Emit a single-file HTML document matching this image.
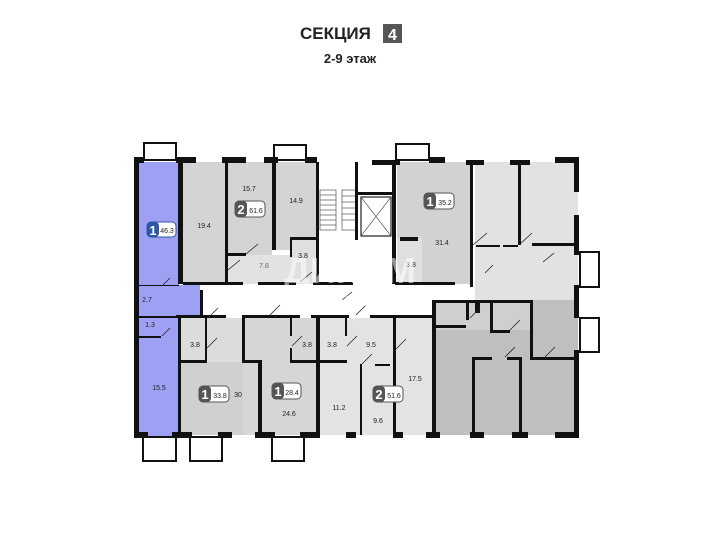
<!DOCTYPE html>
<html><head><meta charset="utf-8"><style>
body{margin:0;background:#fff;width:701px;height:556px;overflow:hidden}
svg{display:block}
text{font-family:"Liberation Sans",sans-serif}
</style></head><body>
<svg width="701" height="556" viewBox="0 0 701 556">
<text x="300" y="39" font-size="17" font-weight="bold" fill="#222">СЕКЦИЯ</text>
<rect x="383" y="24" width="19" height="19" fill="#555"/>
<text x="392.5" y="40" font-size="16" font-weight="bold" fill="#fff" text-anchor="middle">4</text>
<text x="350" y="63" font-size="13" font-weight="bold" fill="#222" text-anchor="middle">2-9 этаж</text>

<g fill="#fff" stroke="#111" stroke-width="2">
<rect x="144" y="143" width="32" height="17"/>
<rect x="274" y="145" width="32" height="15"/>
<rect x="396" y="144" width="33" height="16"/>
<rect x="580" y="252" width="19" height="35"/>
<rect x="580" y="318" width="19" height="34"/>
<rect x="143" y="437" width="33" height="24"/>
<rect x="190" y="437" width="32" height="24"/>
<rect x="272" y="437" width="32" height="24"/>
</g>

<rect x="139" y="162" width="440" height="274" fill="#fff"/>
<rect x="139" y="162" width="40" height="274" fill="#9ea0f4"/>
<rect x="179" y="285" width="21" height="33" fill="#9ea0f4"/>
<rect x="183" y="162" width="43" height="122" fill="#d4d4d4"/>
<rect x="228" y="162" width="44" height="93" fill="#d4d4d4"/>
<rect x="275" y="162" width="42" height="88" fill="#d4d4d4"/>
<rect x="226" y="255" width="92" height="29" fill="#e2e2e2"/>
<rect x="291" y="238" width="27" height="46" fill="#e0e0e0"/>
<rect x="397" y="162" width="74" height="122" fill="#d2d2d2"/>
<rect x="397" y="238" width="25" height="46" fill="#e0e0e0"/>
<rect x="475" y="162" width="103" height="138" fill="#e2e2e2"/>
<rect x="178" y="318" width="82" height="117" fill="#d0d0d0"/>
<rect x="178" y="318" width="65" height="44" fill="#dcdcdc"/>
<rect x="243" y="318" width="75" height="117" fill="#d6d6d6"/>
<rect x="320" y="318" width="113" height="117" fill="#e3e3e3"/>
<rect x="435" y="300" width="143" height="135" fill="#bfbfbf"/>
<rect x="435" y="300" width="96" height="30" fill="#cfcfcf"/>

<g stroke="#555" stroke-width="0.7" fill="none">
<rect x="320" y="190" width="16" height="40"/>
<line x1="320" y1="195" x2="336" y2="195"/><line x1="320" y1="200" x2="336" y2="200"/><line x1="320" y1="205" x2="336" y2="205"/><line x1="320" y1="210" x2="336" y2="210"/><line x1="320" y1="215" x2="336" y2="215"/><line x1="320" y1="220" x2="336" y2="220"/><line x1="320" y1="225" x2="336" y2="225"/>
<rect x="342" y="190" width="14" height="40"/>
<line x1="342" y1="196" x2="356" y2="196"/><line x1="342" y1="202" x2="356" y2="202"/><line x1="342" y1="208" x2="356" y2="208"/><line x1="342" y1="214" x2="356" y2="214"/><line x1="342" y1="220" x2="356" y2="220"/>
<rect x="361" y="197" width="30" height="39" stroke="#222" stroke-width="1.2"/>
<line x1="361" y1="197" x2="391" y2="236"/><line x1="391" y1="197" x2="361" y2="236"/>
</g>

<g fill="#111">
<rect x="134" y="157" width="5" height="280"/>
<rect x="134" y="157" width="10" height="6"/><rect x="176" y="157" width="20" height="6"/>
<rect x="222" y="157" width="24" height="6"/><rect x="264" y="157" width="14" height="6"/>
<rect x="305" y="157" width="12" height="6"/><rect x="372" y="160" width="28" height="5"/>
<rect x="429" y="157" width="16" height="6"/><rect x="466" y="160" width="18" height="5"/>
<rect x="510" y="160" width="20" height="5"/><rect x="555" y="157" width="24" height="6"/>
<rect x="574" y="157" width="5" height="35"/><rect x="574" y="215" width="5" height="40"/>
<rect x="574" y="285" width="5" height="33"/><rect x="574" y="350" width="5" height="87"/>
<rect x="134" y="432" width="14" height="6"/><rect x="172" y="432" width="20" height="6"/>
<rect x="218" y="432" width="14" height="6"/><rect x="255" y="432" width="20" height="6"/>
<rect x="300" y="432" width="20" height="6"/><rect x="346" y="432" width="10" height="6"/>
<rect x="393" y="432" width="10" height="6"/><rect x="426" y="432" width="14" height="6"/>
<rect x="470" y="432" width="14" height="6"/><rect x="512" y="432" width="16" height="6"/>
<rect x="555" y="432" width="24" height="6"/>
<rect x="178" y="162" width="5" height="122"/>
<rect x="225" y="162" width="3" height="120"/>
<rect x="272" y="162" width="4" height="88"/>
<rect x="316" y="162" width="3" height="122"/>
<rect x="226" y="253" width="20" height="3"/>
<rect x="290" y="237" width="28" height="3"/><rect x="290" y="237" width="2" height="20"/>
<rect x="355" y="162" width="3" height="78"/><rect x="392" y="162" width="4" height="122"/>
<rect x="356" y="192" width="37" height="3"/>
<rect x="183" y="282" width="60" height="3"/><rect x="258" y="282" width="38" height="3"/>
<rect x="313" y="282" width="40" height="3"/><rect x="395" y="282" width="60" height="3"/>
<rect x="470" y="165" width="3" height="122"/><rect x="400" y="237" width="18" height="4"/>
<rect x="518" y="165" width="3" height="80"/>
<rect x="476" y="245" width="24" height="2"/><rect x="503" y="245" width="15" height="2"/>
<rect x="532" y="243" width="42" height="3"/>
<rect x="178" y="315" width="3" height="120"/><rect x="176" y="315" width="50" height="3"/>
<rect x="242" y="315" width="58" height="3"/><rect x="311" y="315" width="38" height="3"/>
<rect x="370" y="315" width="62" height="3"/><rect x="200" y="290" width="3" height="25"/>
<rect x="258" y="360" width="4" height="75"/><rect x="242" y="318" width="3" height="44"/>
<rect x="242" y="360" width="20" height="3"/>
<rect x="316" y="318" width="4" height="117"/>
<rect x="181" y="360" width="26" height="3"/><rect x="205" y="318" width="2" height="45"/>
<rect x="290" y="360" width="26" height="3"/><rect x="290" y="318" width="2" height="18"/><rect x="290" y="348" width="2" height="14"/>
<rect x="320" y="360" width="27" height="3"/><rect x="345" y="318" width="2" height="18"/>
<rect x="360" y="364" width="2" height="71"/><rect x="375" y="364" width="15" height="2"/>
<rect x="393" y="318" width="3" height="117"/>
<rect x="432" y="300" width="4" height="135"/>
<rect x="436" y="300" width="94" height="3"/>
<rect x="436" y="325" width="30" height="3"/><rect x="466" y="300" width="3" height="20"/>
<rect x="477" y="303" width="3" height="10"/><rect x="475" y="300" width="2" height="13"/>
<rect x="490" y="300" width="3" height="33"/><rect x="490" y="330" width="20" height="3"/>
<rect x="530" y="300" width="3" height="60"/>
<rect x="472" y="357" width="3" height="78"/><rect x="472" y="357" width="20" height="3"/>
<rect x="507" y="357" width="15" height="3"/><rect x="519" y="357" width="3" height="78"/>
<rect x="530" y="357" width="44" height="3"/>
<rect x="139" y="285" width="40" height="1"/>
<rect x="139" y="316" width="40" height="2"/><rect x="139" y="336" width="22" height="2"/>
</g>
<g stroke="#222" stroke-width="0.8">
<line x1="246" y1="254" x2="258" y2="244"/><line x1="228" y1="270" x2="240" y2="260"/>
<line x1="300" y1="282" x2="312" y2="272"/><line x1="208" y1="318" x2="218" y2="308"/>
<line x1="207" y1="348" x2="217" y2="338"/><line x1="292" y1="346" x2="302" y2="336"/>
<line x1="347" y1="346" x2="357" y2="336"/><line x1="362" y1="364" x2="372" y2="354"/>
<line x1="396" y1="349" x2="406" y2="339"/><line x1="270" y1="315" x2="280" y2="305"/>
<line x1="356" y1="315" x2="366" y2="305"/><line x1="473" y1="245" x2="487" y2="233"/>
<line x1="519" y1="245" x2="532" y2="233"/><line x1="543" y1="262" x2="554" y2="253"/>
<line x1="485" y1="273" x2="493" y2="265"/><line x1="342" y1="300" x2="352" y2="292"/>
<line x1="470" y1="318" x2="480" y2="308"/><line x1="505" y1="357" x2="515" y2="347"/>
<line x1="545" y1="357" x2="555" y2="347"/><line x1="510" y1="330" x2="520" y2="320"/>
<line x1="162" y1="286" x2="170" y2="278"/><line x1="162" y1="336" x2="170" y2="328"/>
</g>

<g font-size="7" fill="#222" text-anchor="middle">
<text x="204" y="228">19.4</text><text x="249" y="191">15.7</text><text x="296" y="203">14.9</text>
<text x="160" y="228">20.9</text><text x="147" y="302">2.7</text><text x="150" y="327">1.3</text>
<text x="159" y="390">15.5</text><text x="264" y="268" fill="#666">7.8</text><text x="303" y="258">3.8</text>
<text x="411" y="267">3.8</text><text x="442" y="245">31.4</text>
<text x="195" y="347">3.8</text><text x="238" y="397">30</text><text x="307" y="347">3.8</text>
<text x="332" y="347">3.8</text><text x="371" y="347">9.5</text><text x="289" y="416">24.6</text>
<text x="339" y="410">11.2</text><text x="378" y="423">9.6</text><text x="415" y="381">17.5</text>
</g>
<g>
<rect x="147" y="222" width="29" height="15" rx="4" fill="#fff" stroke="#2c56a8"/><rect x="147" y="222" width="12" height="15" rx="4" fill="#2c56a8"/>
<text x="153" y="235" font-size="13" font-weight="bold" fill="#fff" text-anchor="middle">1</text><text x="167" y="233" font-size="7" fill="#222" text-anchor="middle">46.3</text>
<rect x="235" y="201" width="30" height="16" rx="4" fill="#fff" stroke="#555"/><rect x="235" y="201" width="12" height="16" rx="4" fill="#555"/>
<text x="241" y="214" font-size="13" font-weight="bold" fill="#fff" text-anchor="middle">2</text><text x="256" y="213" font-size="7" fill="#222" text-anchor="middle">61.6</text>
<rect x="424" y="193" width="30" height="16" rx="4" fill="#fff" stroke="#555"/><rect x="424" y="193" width="12" height="16" rx="4" fill="#555"/>
<text x="430" y="206" font-size="13" font-weight="bold" fill="#fff" text-anchor="middle">1</text><text x="445" y="205" font-size="7" fill="#222" text-anchor="middle">35.2</text>
<rect x="199" y="386" width="30" height="16" rx="4" fill="#fff" stroke="#555"/><rect x="199" y="386" width="12" height="16" rx="4" fill="#555"/>
<text x="205" y="399" font-size="13" font-weight="bold" fill="#fff" text-anchor="middle">1</text><text x="220" y="398" font-size="7" fill="#222" text-anchor="middle">33.8</text>
<rect x="272" y="383" width="29" height="16" rx="4" fill="#fff" stroke="#555"/><rect x="272" y="383" width="12" height="16" rx="4" fill="#555"/>
<text x="278" y="396" font-size="13" font-weight="bold" fill="#fff" text-anchor="middle">1</text><text x="292" y="395" font-size="7" fill="#222" text-anchor="middle">28.4</text>
<rect x="373" y="386" width="30" height="16" rx="4" fill="#fff" stroke="#555"/><rect x="373" y="386" width="12" height="16" rx="4" fill="#555"/>
<text x="379" y="399" font-size="13" font-weight="bold" fill="#fff" text-anchor="middle">2</text><text x="394" y="398" font-size="7" fill="#222" text-anchor="middle">51.6</text>
</g>
<text x="350" y="283" font-size="36" font-weight="bold" fill="#fff" fill-opacity="0.55" text-anchor="middle">ДИКОМ</text>
<text x="350" y="306" font-size="15" font-family="Liberation Serif,serif" fill="#fff" fill-opacity="0.7" text-anchor="middle" letter-spacing="2">НЕДВИЖИМОСТЬ</text>
</svg>
</body></html>
